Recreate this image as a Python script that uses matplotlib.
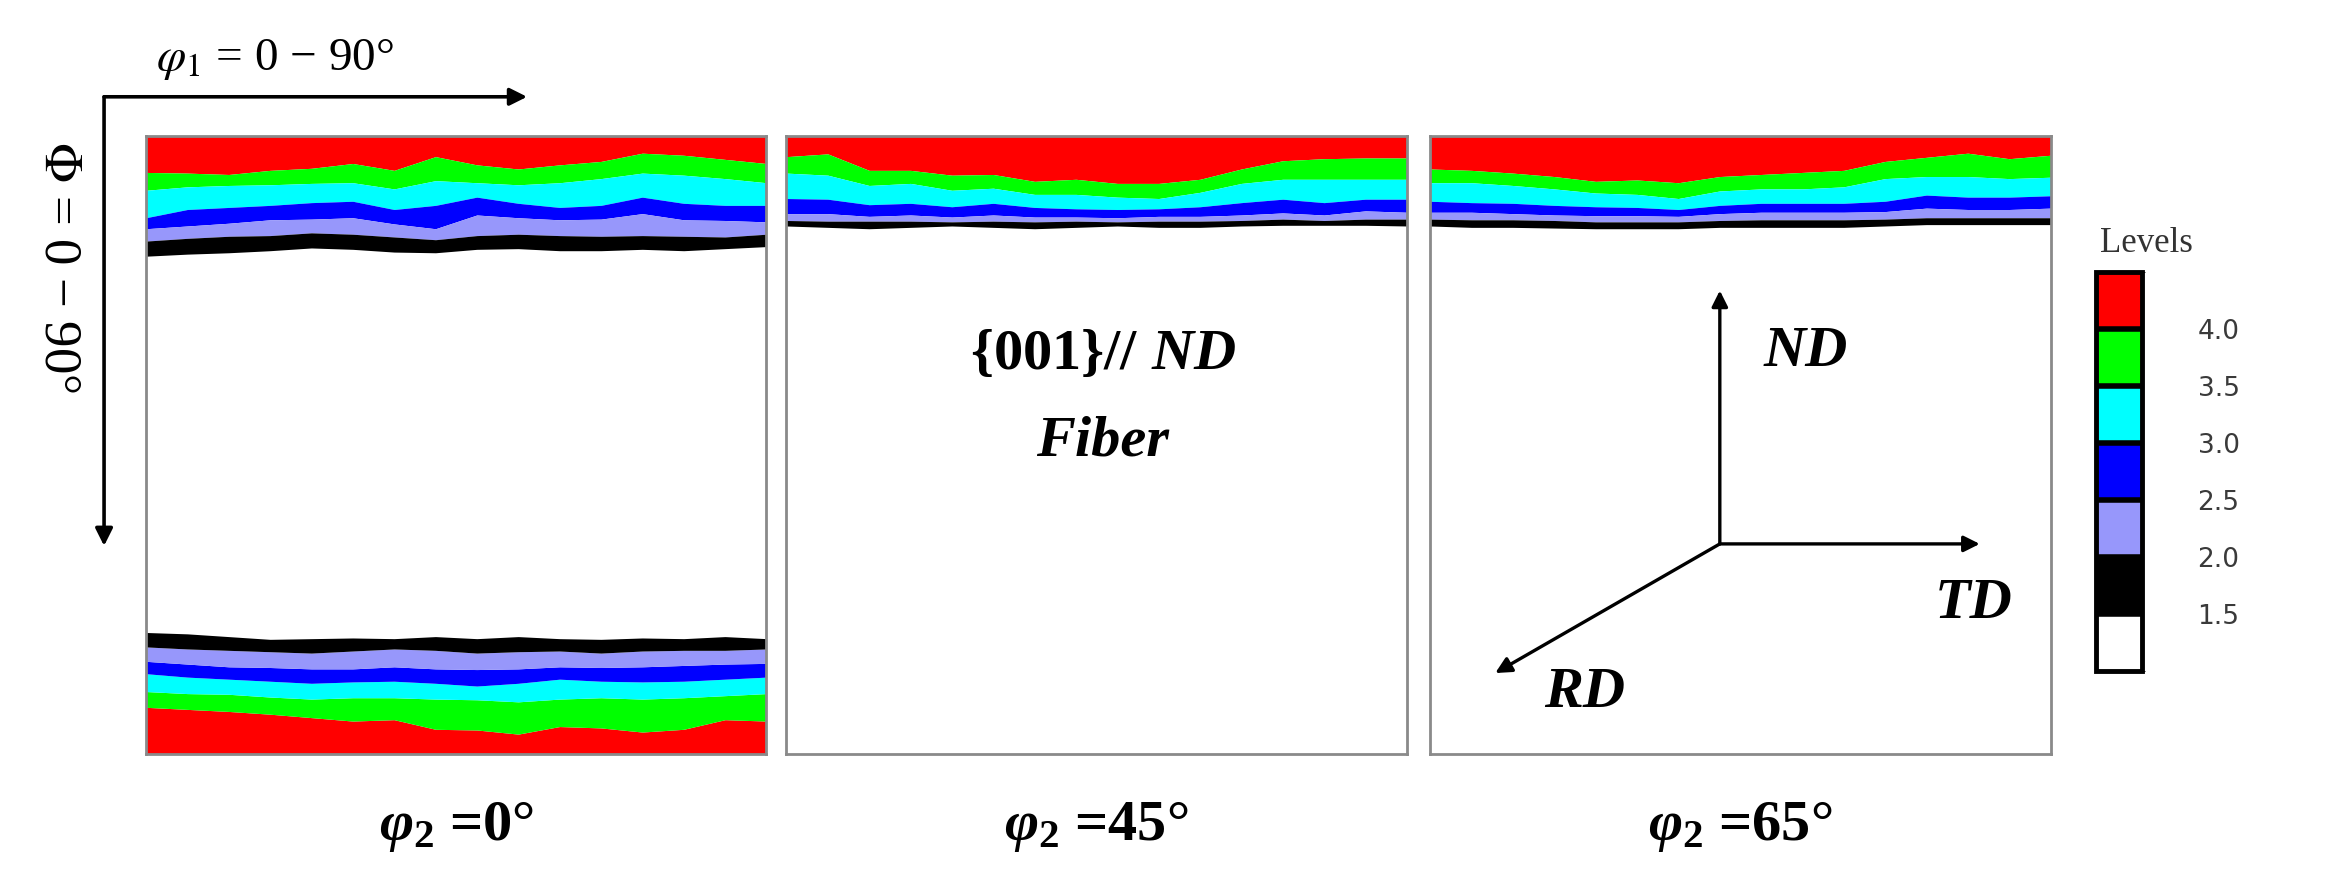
import matplotlib
matplotlib.use('Agg')
import matplotlib.pyplot as plt
from matplotlib.colors import ListedColormap, BoundaryNorm
from matplotlib.cm import ScalarMappable

plt.rcParams['mathtext.fontset'] = 'custom'
plt.rcParams['mathtext.rm'] = 'Liberation Serif:bold'
plt.rcParams['mathtext.it'] = 'Liberation Serif:italic:bold'
plt.rcParams['mathtext.bf'] = 'Liberation Serif:bold'

# --- phi1 positions (deg) where the contour lines were sampled ---
phi1 = [0, 6, 12, 18, 24, 30, 36, 42, 48, 54, 60, 66, 72, 78, 84, 90]

# --- Phi (deg) of each contour level, phi2 = 0 section, upper band ---
p0_top_40 = [5.3, 5.4, 5.6, 5.0, 4.7, 4.0, 5.0, 3.0, 4.2, 4.8, 4.2, 3.7, 2.5, 2.8, 3.4, 4.0]
p0_top_35 = [7.9, 7.4, 7.2, 7.1, 6.9, 6.8, 7.7, 6.5, 6.8, 7.1, 6.8, 6.2, 5.4, 5.7, 6.2, 6.8]
p0_top_30 = [11.9, 10.7, 10.4, 10.1, 9.7, 9.5, 10.7, 10.1, 8.9, 9.8, 10.4, 10.1, 8.9, 9.8, 10.1, 10.1]
p0_top_25 = [13.5, 13.1, 12.7, 12.2, 12.1, 11.9, 12.8, 13.5, 11.5, 11.9, 12.2, 12.1, 11.3, 12.2, 12.3, 12.5]
p0_top_20 = [15.3, 14.9, 14.6, 14.5, 14.1, 14.3, 14.7, 15.1, 14.5, 14.3, 14.5, 14.6, 14.5, 14.6, 14.7, 14.3]
p0_top_15 = [17.5, 17.2, 17.0, 16.7, 16.3, 16.5, 16.9, 17.0, 16.5, 16.4, 16.7, 16.7, 16.5, 16.7, 16.4, 16.1]

# --- phi2 = 0 section, lower band ---
p0_bot_15 = [72.3, 72.5, 72.9, 73.3, 73.2, 73.1, 73.2, 72.9, 73.2, 72.9, 73.2, 73.3, 73.1, 73.2, 72.9, 73.2]
p0_bot_20 = [74.4, 74.7, 74.9, 75.1, 75.3, 75.0, 74.7, 74.9, 75.3, 75.1, 75.0, 75.3, 75.0, 74.9, 74.9, 74.7]
p0_bot_25 = [76.5, 76.9, 77.3, 77.4, 77.6, 77.6, 77.3, 77.6, 77.7, 77.6, 77.3, 77.4, 77.3, 77.1, 76.9, 76.8]
p0_bot_30 = [78.3, 78.8, 79.1, 79.4, 79.7, 79.5, 79.4, 79.7, 80.1, 79.7, 79.1, 79.4, 79.5, 79.4, 79.1, 78.8]
p0_bot_35 = [80.9, 81.2, 81.3, 81.7, 82.0, 81.8, 81.8, 82.0, 82.1, 82.4, 82.0, 81.8, 82.0, 81.8, 81.5, 81.2]
p0_bot_40 = [83.2, 83.5, 83.8, 84.2, 84.7, 85.2, 85.0, 86.4, 86.5, 87.1, 86.0, 86.2, 86.8, 86.4, 85.0, 85.2]

# --- phi2 = 45 section ---
p45_40 = [3.0, 2.6, 5.0, 5.0, 5.7, 5.6, 6.6, 6.3, 6.9, 6.9, 6.3, 4.8, 3.6, 3.3, 3.2, 3.2]
p45_35 = [5.4, 5.7, 7.2, 6.9, 7.9, 7.6, 8.5, 8.5, 8.9, 9.1, 8.2, 6.9, 6.3, 6.3, 6.3, 6.3]
p45_30 = [9.1, 9.2, 10.0, 9.8, 10.3, 9.8, 10.4, 10.6, 10.7, 10.6, 10.3, 9.7, 9.2, 9.7, 9.2, 9.2]
p45_25 = [11.3, 11.3, 11.7, 11.5, 11.8, 11.5, 11.8, 11.8, 11.9, 11.7, 11.7, 11.5, 11.2, 11.5, 10.9, 11.1]
p45_20 = [12.3, 12.4, 12.4, 12.4, 12.5, 12.4, 12.5, 12.4, 12.5, 12.4, 12.4, 12.3, 12.1, 12.3, 12.1, 12.1]
p45_15 = [13.1, 13.3, 13.5, 13.3, 13.1, 13.3, 13.5, 13.3, 13.1, 13.3, 13.3, 13.1, 13.0, 13.0, 13.0, 13.1]

# --- phi2 = 65 section ---
p65_40 = [4.8, 5.0, 5.4, 5.9, 6.6, 6.4, 6.8, 5.9, 5.6, 5.3, 5.0, 3.7, 3.1, 2.5, 3.3, 2.8]
p65_35 = [6.8, 6.8, 7.2, 7.7, 8.3, 8.5, 9.1, 8.0, 7.7, 7.7, 7.4, 6.2, 5.9, 5.9, 6.2, 6.0]
p65_30 = [9.5, 9.7, 9.8, 10.1, 10.3, 10.4, 10.7, 10.1, 9.8, 9.8, 9.8, 9.5, 8.6, 8.9, 8.9, 8.7]
p65_25 = [11.1, 11.1, 11.3, 11.5, 11.6, 11.6, 11.7, 11.3, 11.1, 11.1, 11.1, 11.0, 10.5, 10.7, 10.7, 10.5]
p65_20 = [12.1, 12.2, 12.2, 12.3, 12.5, 12.5, 12.5, 12.3, 12.2, 12.2, 12.2, 12.1, 11.9, 11.9, 11.9, 11.9]
p65_15 = [13.1, 13.3, 13.3, 13.4, 13.5, 13.5, 13.5, 13.3, 13.3, 13.3, 13.3, 13.1, 12.9, 12.9, 12.9, 12.9]

levels = [1.0, 1.5, 2.0, 2.5, 3.0, 3.5, 4.0, 4.5]
level_ticks = [1.5, 2.0, 2.5, 3.0, 3.5, 4.0]
level_colors = ['white', 'black', '#9797fb', '#0000ff', '#00ffff', '#00ff00', '#ff0000']
phi2_labels = [r'$\varphi_2$ =0°', r'$\varphi_2$ =45°', r'$\varphi_2$ =65°']

top_bands = [
    [p0_top_40, p0_top_35, p0_top_30, p0_top_25, p0_top_20, p0_top_15],
    [p45_40, p45_35, p45_30, p45_25, p45_20, p45_15],
    [p65_40, p65_35, p65_30, p65_25, p65_20, p65_15],
]
bottom_band = [p0_bot_40, p0_bot_35, p0_bot_30, p0_bot_25, p0_bot_20, p0_bot_15]

# colours from the highest level down to 1.5
band_colors = level_colors[::-1][:6]

fig = plt.figure(figsize=(23.28, 8.72), dpi=100)

panel_left = [0.0627, 0.3378, 0.6143]
axes = []
for i, left in enumerate(panel_left):
    ax = fig.add_axes([left, 0.1353, 0.2665, 0.7087])
    ax.set_xlim(0, 90)
    ax.set_ylim(90, 0)
    ax.set_xticks([])
    ax.set_yticks([])
    for sp in ax.spines.values():
        sp.set_color('#8a8a8a')
        sp.set_linewidth(2.0)

    # upper band: from Phi = 0 down through each level
    prev = [0] * len(phi1)
    for bound, col in zip(top_bands[i], band_colors):
        ax.fill_between(phi1, prev, bound, color=col, lw=0)
        prev = bound

    ax.text(0.5, -0.118, phi2_labels[i], transform=ax.transAxes,
            ha='center', va='center', fontsize=42, family='Liberation Serif',
            weight='bold', math_fontfamily='custom')
    axes.append(ax)

# lower band of the phi2 = 0 section
ax = axes[0]
prev = [90] * len(phi1)
for bound, col in zip(bottom_band, band_colors):
    ax.fill_between(phi1, bound, prev, color=col, lw=0)
    prev = bound

# --- fibre label ---
ax = axes[1]
ax.text(0.51, 0.65, r'$\{\mathrm{001}\}//\ ND$', transform=ax.transAxes,
        ha='center', va='center', fontsize=42, math_fontfamily='custom')
ax.text(0.51, 0.505, 'Fiber', transform=ax.transAxes, ha='center', va='center',
        fontsize=42, family='Liberation Serif', weight='bold', style='italic')

# --- sample axes ---
ax = axes[2]
origin = (0.467, 0.34)
arrow_kw = dict(arrowstyle='-|>', lw=2.4, color='black', mutation_scale=24,
                shrinkA=0, shrinkB=0)
for tip in [(0.467, 0.75), (0.886, 0.34), (0.105, 0.131)]:
    ax.annotate('', xy=tip, xytext=origin, xycoords='axes fraction',
                textcoords='axes fraction', arrowprops=arrow_kw)
for txt, pos in [('ND', (0.605, 0.65)), ('TD', (0.876, 0.242)), ('RD', (0.249, 0.098))]:
    ax.text(pos[0], pos[1], txt, transform=ax.transAxes, ha='center', va='center',
            fontsize=42, family='Liberation Serif', weight='bold', style='italic')

# --- Euler angle axes, upper left ---
corner = (0.0447, 0.889)
fig_arrow = dict(arrowstyle='-|>', lw=2.6, color='black', mutation_scale=26,
                 shrinkA=0, shrinkB=0)
fig.add_artist(matplotlib.patches.FancyArrowPatch(corner, (0.2264, 0.889),
               transform=fig.transFigure, **fig_arrow))
fig.add_artist(matplotlib.patches.FancyArrowPatch(corner, (0.0447, 0.374),
               transform=fig.transFigure, **fig_arrow))
fig.text(0.118, 0.932, r'$\varphi_1$ = 0 − 90°', ha='center', va='center',
         fontsize=34, family='Liberation Serif', math_fontfamily='stix')
fig.text(0.0253, 0.694, r'$\Phi$ = 0 − 90°', ha='center', va='center',
         fontsize=38, rotation=-90, family='Liberation Serif', math_fontfamily='stix')

# --- level key ---
cax = fig.add_axes([0.9003, 0.2305, 0.0198, 0.4576])
cmap = ListedColormap(level_colors)
norm = BoundaryNorm(levels, cmap.N)
cb = fig.colorbar(ScalarMappable(norm=norm, cmap=cmap), cax=cax,
                  ticks=level_ticks, drawedges=True)
cb.outline.set_linewidth(3.5)
cb.outline.set_edgecolor('black')
cb.dividers.set_linewidth(4)
cb.dividers.set_color('black')
cax.tick_params(length=0, pad=40, labelsize=19, labelcolor='#3a3a3a')
cax.set_yticklabels(['%.1f' % t for t in level_ticks])
for lab in cax.get_yticklabels():
    lab.set_family('DejaVu Sans')
cax.text(1.1, 1.03, 'Levels', transform=cax.transAxes, ha='center', va='bottom',
         fontsize=25, family='Liberation Serif', color='#333333')

fig.savefig('out.png', dpi=100, facecolor='white')
